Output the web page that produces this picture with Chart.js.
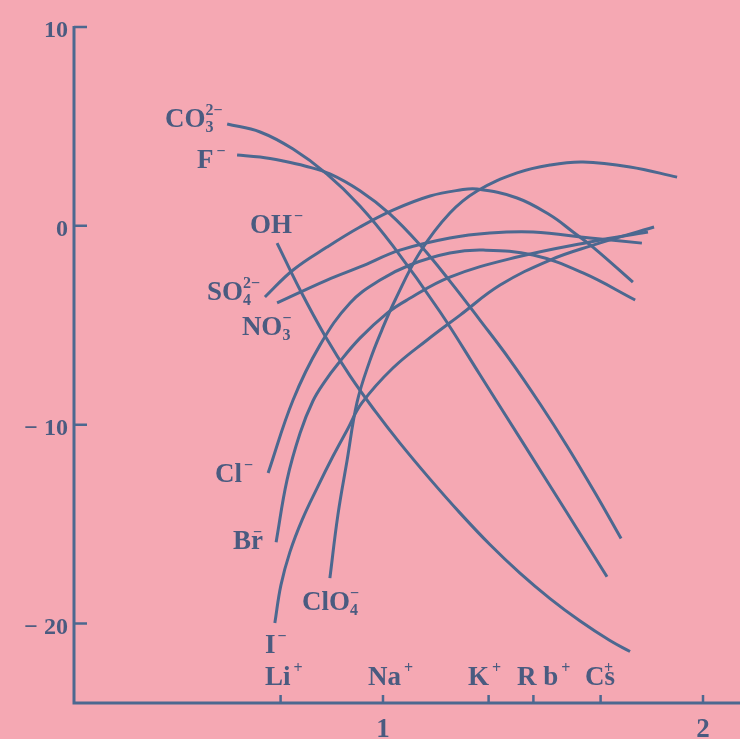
<!DOCTYPE html>
<html>
<head>
<meta charset="utf-8">
<script src="https://cdn.jsdelivr.net/npm/chart.js@4.4.1/dist/chart.umd.min.js"></script>
<style>
  html, body { margin: 0; padding: 0; background: #f5a8b3; }
  #wrap { width: 740px; height: 739px; }
</style>
</head>
<body>
<div id="wrap"><canvas id="chart" width="740" height="739"></canvas></div>
<script>
// values: x = cation radius, y = value on the left axis
const co3X = [0.513, 0.616, 0.719, 0.825, 0.928, 1.031, 1.178, 1.303, 1.438, 1.569, 1.70];
const co3Y = [5.12, 4.72, 3.86, 2.60, 1.00, -1.01, -4.32, -7.49, -10.93, -14.28, -17.65];

const fX = [0.544, 0.616, 0.688, 0.756, 0.834, 0.928, 1.022, 1.116, 1.209, 1.303, 1.397, 1.491, 1.575, 1.663, 1.744];
const fY = [3.56, 3.46, 3.26, 3.01, 2.61, 1.76, 0.59, -0.97, -2.78, -4.74, -6.75, -8.96, -11.07, -13.44, -15.73];

const ohX = [0.669, 0.741, 0.819, 0.897, 0.975, 1.053, 1.147, 1.241, 1.334, 1.428, 1.522, 1.616, 1.709, 1.772];
const ohY = [-0.87, -3.23, -5.54, -7.55, -9.31, -10.93, -12.74, -14.45, -16.03, -17.47, -18.75, -19.88, -20.86, -21.41];

const so4X = [0.631, 0.719, 0.825, 0.928, 1.031, 1.147, 1.241, 1.294, 1.419, 1.522, 1.594, 1.656, 1.781];
const so4Y = [-3.58, -2.22, -1.07, -0.06, 0.79, 1.50, 1.80, 1.85, 1.40, 0.54, -0.31, -1.07, -2.83];

const no3X = [0.669, 0.825, 0.928, 1.053, 1.209, 1.334, 1.469, 1.647, 1.809];
const no3Y = [-3.88, -2.73, -2.07, -1.22, -0.61, -0.36, -0.31, -0.61, -0.87];

const clX = [0.641, 0.719, 0.803, 0.897, 0.991, 1.084, 1.209, 1.313, 1.469, 1.625, 1.788];
const clY = [-12.43, -8.76, -6.00, -3.88, -2.73, -1.97, -1.37, -1.22, -1.47, -2.37, -3.73];

const brX = [0.666, 0.70, 0.741, 0.781, 0.819, 0.859, 0.928, 1.013, 1.075, 1.209, 1.419, 1.647, 1.828];
const brY = [-15.91, -12.79, -10.42, -8.81, -7.81, -6.95, -5.65, -4.39, -3.73, -2.58, -1.57, -0.81, -0.31];

const iX = [0.662, 0.681, 0.709, 0.747, 0.794, 0.844, 0.888, 0.934, 1.031, 1.138, 1.241, 1.366, 1.522, 1.647, 1.847];
const iY = [-19.98, -18.07, -16.41, -14.80, -13.19, -11.58, -10.27, -8.91, -7.15, -5.74, -4.49, -2.98, -1.72, -1.02, -0.06];

const clo4X = [0.834, 0.859, 0.888, 0.919, 0.959, 0.997, 1.038, 1.116, 1.209, 1.294, 1.419, 1.522, 1.625, 1.772, 1.919];
const clo4Y = [-17.72, -14.55, -11.78, -8.87, -6.78, -5.22, -3.73, -1.32, 0.64, 1.75, 2.66, 3.06, 3.21, 2.96, 2.45];

const yTicks = [10, 0, -10, -20];
const yTickLabels = ['10', '0', '\u2212 10', '\u2212 20'];
const xTicks = [0.68, 1.0, 1.33, 1.47, 1.68, 2.0];
const xNumbers = [1, 2];

const cations = ['Li', 'Na', 'K', 'R b', 'Cs'];
const cationX = [0.631, 0.953, 1.266, 1.419, 1.631];

// anion names next to the curve ends (left x, baseline y in data units)
const anionLabels = [
  { x: 0.319, y: 4.97, parts: [{ t: 'CO' }, { sub: '3', sup: '2\u2212' }] },
  { x: 0.419, y: 2.91, parts: [{ t: 'F' }, { sup: '\u2212', dx: 3 }] },
  { x: 0.584, y: -0.36, parts: [{ t: 'OH' }, { sup: '\u2212', dx: 2 }] },
  { x: 0.450, y: -3.73, parts: [{ t: 'SO' }, { sub: '4', sup: '2\u2212' }] },
  { x: 0.559, y: -5.49, parts: [{ t: 'NO' }, { sub: '3', sup: '\u2212' }] },
  { x: 0.475, y: -12.89, parts: [{ t: 'Cl' }, { sup: '\u2212', dx: 2 }] },
  { x: 0.531, y: -16.26, parts: [{ t: 'Br' }, { sup: '\u2212', dx: -10 }] },
  { x: 0.747, y: -19.33, parts: [{ t: 'ClO' }, { sub: '4', sup: '\u2212' }] },
  { x: 0.631, y: -21.49, parts: [{ t: 'I' }, { sup: '\u2212', dx: 2 }] }
];

const INK = '#4c6890';
const TEXT = '#4a5b80';
const BG = '#f5a8b3';
const MAIN_FONT = 'bold 27px "Liberation Serif", "DejaVu Serif", serif';
const SMALL_FONT = 'bold 16px "Liberation Serif", "DejaVu Serif", serif';
const NUM_FONT = 'bold 24px "Liberation Serif", "DejaVu Serif", serif';
const XNUM_FONT = 'bold 27px "Liberation Serif", "DejaVu Serif", serif';

const toPoints = (xs, ys) => xs.map((v, i) => ({ x: v, y: ys[i] }));

const curves = [
  ['CO3', co3X, co3Y], ['F', fX, fY], ['OH', ohX, ohY],
  ['SO4', so4X, so4Y], ['NO3', no3X, no3Y], ['Cl', clX, clY],
  ['Br', brX, brY], ['I', iX, iY], ['ClO4', clo4X, clo4Y]
];

const drawChem = (ctx, parts, x, y) => {
  let cx = x;
  for (const p of parts) {
    if (p.t) {
      ctx.font = MAIN_FONT;
      ctx.fillText(p.t, cx, y);
      cx += ctx.measureText(p.t).width;
    } else {
      ctx.font = SMALL_FONT;
      const sx = cx + (p.dx || 0);
      let w = 0;
      if (p.sup) {
        ctx.fillText(p.sup, sx, y - 12);
        w = Math.max(w, ctx.measureText(p.sup).width);
      }
      if (p.sub) {
        ctx.fillText(p.sub, sx, y + 5);
        w = Math.max(w, ctx.measureText(p.sub).width);
      }
      cx = Math.max(cx, sx + w);
    }
  }
};

const paper = {
  id: 'paper',
  beforeDraw(chart) {
    const { ctx, width, height } = chart;
    ctx.save();
    ctx.fillStyle = BG;
    ctx.fillRect(0, 0, width, height);
    ctx.restore();
  },
  afterDraw(chart) {
    const { ctx, scales: { x, y } } = chart;
    const x0 = x.getPixelForValue(x.min);
    const y0 = y.getPixelForValue(y.min);
    ctx.save();
    ctx.strokeStyle = INK;
    ctx.lineWidth = 3;

    // axes
    ctx.beginPath();
    ctx.moveTo(x0, y.getPixelForValue(yTicks[0]) - 1);
    ctx.lineTo(x0, y0);
    ctx.lineTo(chart.width, y0);
    ctx.stroke();

    // ticks point inwards
    ctx.lineWidth = 2.5;
    ctx.beginPath();
    yTicks.forEach(v => {
      const py = y.getPixelForValue(v);
      ctx.moveTo(x0, py);
      ctx.lineTo(x0 + 13, py);
    });
    xTicks.forEach(v => {
      const px = x.getPixelForValue(v);
      ctx.moveTo(px, y0);
      ctx.lineTo(px, y0 - 8);
    });
    ctx.stroke();

    ctx.fillStyle = TEXT;
    ctx.font = NUM_FONT;
    ctx.textAlign = 'right';
    ctx.textBaseline = 'middle';
    yTicks.forEach((v, i) => {
      ctx.fillText(yTickLabels[i], x0 - 6, y.getPixelForValue(v) + 4);
    });

    ctx.font = XNUM_FONT;
    ctx.textAlign = 'center';
    ctx.textBaseline = 'alphabetic';
    xNumbers.forEach(v => {
      ctx.fillText(String(v), x.getPixelForValue(v), y0 + 34);
    });

    ctx.textAlign = 'left';
    const cy = y0 - 18;
    cations.forEach((c, i) => {
      const parts = c === 'Cs'
        ? [{ t: 'Cs' }, { sup: '+', dx: -11 }]
        : [{ t: c }, { sup: '+', dx: 3 }];
      drawChem(ctx, parts, x.getPixelForValue(cationX[i]), cy);
    });

    anionLabels.forEach(l => {
      drawChem(ctx, l.parts, x.getPixelForValue(l.x), y.getPixelForValue(l.y));
    });
    ctx.restore();
  }
};

new Chart(document.getElementById('chart'), {
  type: 'scatter',
  data: {
    datasets: curves.map(([name, xs, ys]) => ({
      label: name,
      data: toPoints(xs, ys),
      showLine: true,
      borderColor: INK,
      borderWidth: 3,
      pointRadius: 0,
      fill: false,
      tension: 0.4
    }))
  },
  options: {
    responsive: false,
    devicePixelRatio: 1,
    animation: false,
    events: [],
    layout: { padding: { left: 74, right: 0, top: 27, bottom: 36 } },
    plugins: { legend: { display: false }, tooltip: { enabled: false } },
    scales: {
      x: { type: 'linear', min: 0.0344, max: 2.1156, display: false },
      y: { type: 'linear', min: -24, max: 10, display: false }
    }
  },
  plugins: [paper]
});
</script>
</body>
</html>
